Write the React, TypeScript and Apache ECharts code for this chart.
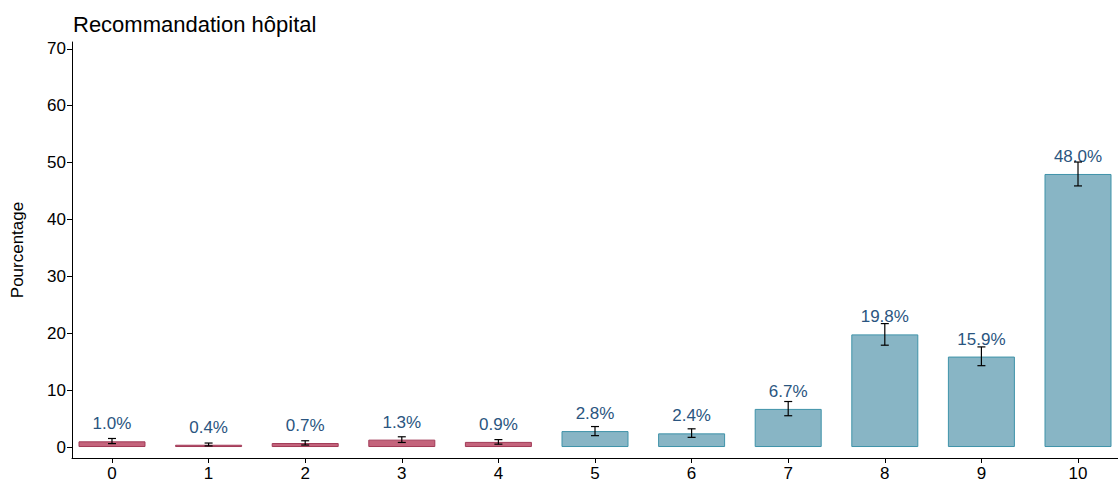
import React, { useEffect, useRef } from 'react';
import * as echarts from 'echarts';

const categories = ['0', '1', '2', '3', '4', '5', '6', '7', '8', '9', '10'];
const values = [1.0, 0.4, 0.7, 1.3, 0.9, 2.8, 2.4, 6.7, 19.8, 15.9, 48.0];
const lower = [0.6, 0.2, 0.35, 0.8, 0.5, 2.0, 1.7, 5.5, 17.9, 14.3, 45.9];
const upper = [1.5, 0.7, 1.1, 1.8, 1.3, 3.6, 3.2, 8.0, 21.7, 17.6, 50.1];
const yTicks = [0, 10, 20, 30, 40, 50, 60, 70];
const xTicks = categories.map((_, i) => i);

const detractor = (i: number) => i <= 4;

export default function App() {
  const ref = useRef<HTMLDivElement>(null);
  useEffect(() => {
    if (!ref.current) return;
    const chart = echarts.init(ref.current, undefined, { renderer: 'svg' });
    const font = 'Liberation Sans, Arial, sans-serif';
    chart.setOption({
      animation: false,
      textStyle: { fontFamily: font },
      title: {
        text: 'Recommandation hôpital', left: 68, top: 8,
        textStyle: { fontSize: 22, fontWeight: 'normal', color: '#000', fontFamily: font },
      },
      grid: { left: 72, right: 0, top: 42, bottom: 28 },
      xAxis: {
        type: 'value', min: -0.414, max: 10.414,
        axisLine: { onZero: false, lineStyle: { color: '#000' } },
        axisTick: { show: true, customValues: xTicks, lineStyle: { color: '#000' } },
        axisLabel: { fontSize: 17, color: '#000', margin: 7, customValues: xTicks,
          formatter: (v: number) => categories[Math.round(v)] ?? '' },
        splitLine: { show: false },
      },
      yAxis: {
        type: 'value', min: -1.93, max: 71.2,
        name: 'Pourcentage', nameLocation: 'middle', nameGap: 46,
        nameTextStyle: { fontSize: 17, color: '#000' },
        axisLine: { show: true, onZero: false, lineStyle: { color: '#000' } },
        axisTick: { show: true, customValues: yTicks, lineStyle: { color: '#000' } },
        axisLabel: { fontSize: 17, color: '#000', margin: 6, customValues: yTicks },
        splitLine: { show: false },
      },
      series: [
        {
          type: 'bar', barWidth: 67,
          data: values.map((v, i) => ({
            value: [i, v],
            itemStyle: detractor(i)
              ? { color: '#c4647c', borderColor: '#a23a57', borderWidth: 1 }
              : { color: '#88b5c5', borderColor: '#3f93a9', borderWidth: 1 },
          })),
          label: {
            show: true, position: 'top', distance: 9, fontSize: 17, color: '#2a5580',
            formatter: (p: any) => p.value[1].toFixed(1) + '%',
          },
        },
        {
          type: 'custom', z: 10,
          data: categories.map((_, i) => [i, lower[i], upper[i]]),
          renderItem: (params: any, api: any) => {
            const lo = api.coord([api.value(0), api.value(1)]);
            const hi = api.coord([api.value(0), api.value(2)]);
            const w = 4;
            const st = { stroke: '#000', lineWidth: 1.2 };
            return {
              type: 'group',
              children: [
                { type: 'line', shape: { x1: lo[0], y1: lo[1], x2: hi[0], y2: hi[1] }, style: st },
                { type: 'line', shape: { x1: lo[0] - w, y1: lo[1], x2: lo[0] + w, y2: lo[1] }, style: st },
                { type: 'line', shape: { x1: hi[0] - w, y1: hi[1], x2: hi[0] + w, y2: hi[1] }, style: st },
              ],
            };
          },
        },
      ],
    });
    return () => chart.dispose();
  }, []);
  return <div ref={ref} style={{ width: 1118, height: 486, position: 'absolute', left: 0, top: 0, background: '#fff' }} />;
}
